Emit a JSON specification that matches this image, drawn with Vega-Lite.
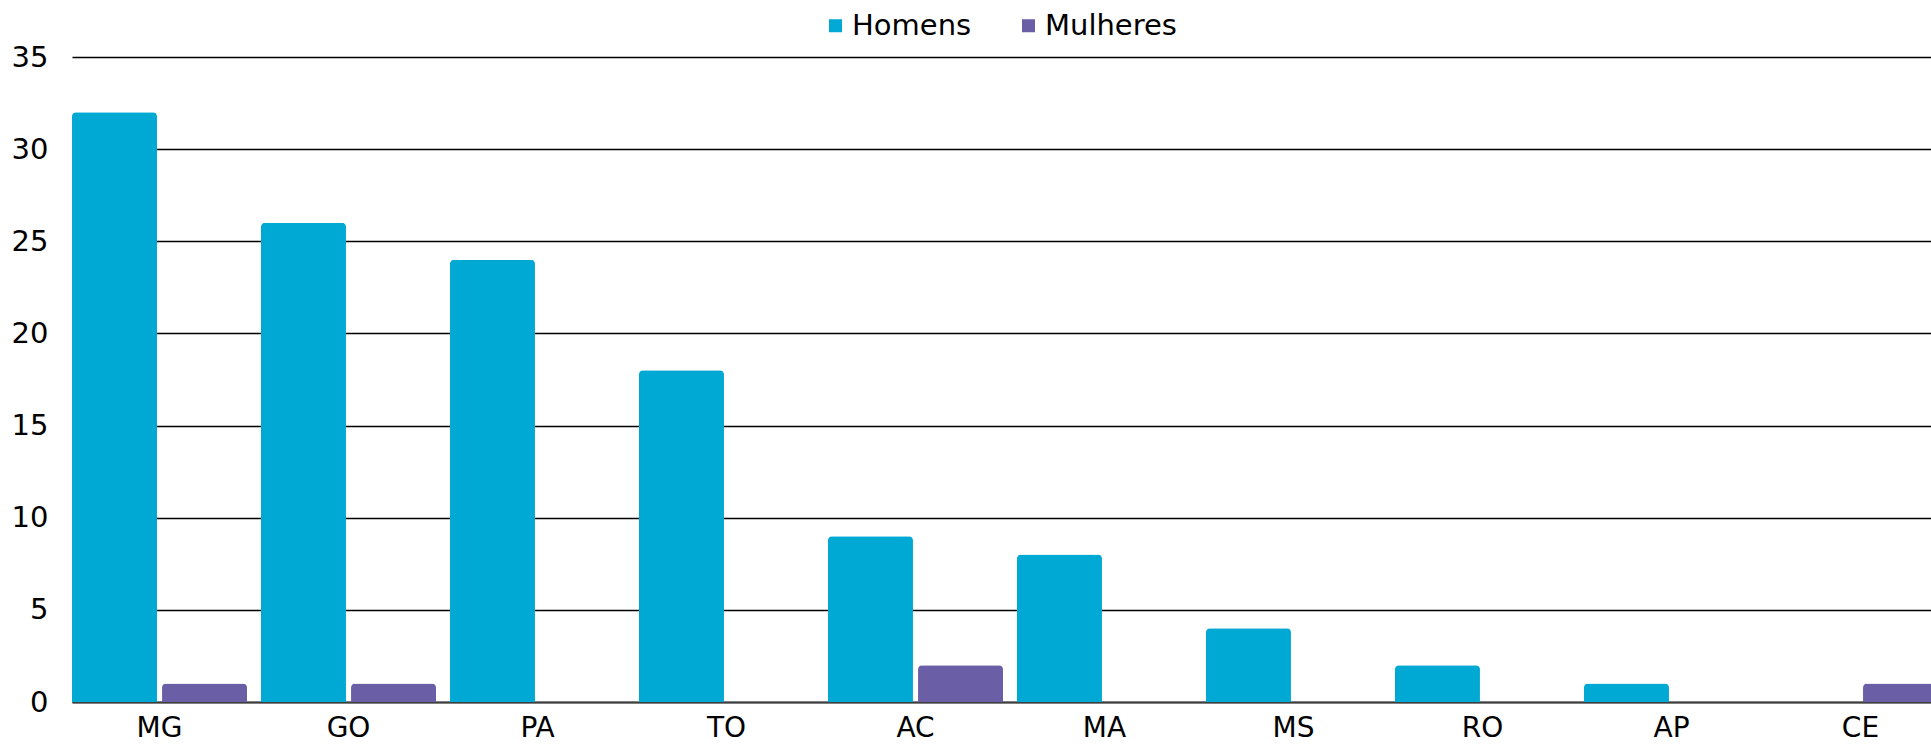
{
  "$schema": "https://vega.github.io/schema/vega-lite/v6.json",
  "width": 1859,
  "height": 645,
  "autosize": "none",
  "padding": {"left": 72, "top": 57, "right": 0, "bottom": 42},
  "background": "white",
  "config": {
    "view": {"stroke": null},
    "font": "DejaVu Sans"
  },
  "data": {
    "values": [
      {"estado": "MG", "sexo": "Homens", "valor": 32},
      {"estado": "MG", "sexo": "Mulheres", "valor": 1},
      {"estado": "GO", "sexo": "Homens", "valor": 26},
      {"estado": "GO", "sexo": "Mulheres", "valor": 1},
      {"estado": "PA", "sexo": "Homens", "valor": 24},
      {"estado": "PA", "sexo": "Mulheres", "valor": 0},
      {"estado": "TO", "sexo": "Homens", "valor": 18},
      {"estado": "TO", "sexo": "Mulheres", "valor": 0},
      {"estado": "AC", "sexo": "Homens", "valor": 9},
      {"estado": "AC", "sexo": "Mulheres", "valor": 2},
      {"estado": "MA", "sexo": "Homens", "valor": 8},
      {"estado": "MA", "sexo": "Mulheres", "valor": 0},
      {"estado": "MS", "sexo": "Homens", "valor": 4},
      {"estado": "MS", "sexo": "Mulheres", "valor": 0},
      {"estado": "RO", "sexo": "Homens", "valor": 2},
      {"estado": "RO", "sexo": "Mulheres", "valor": 0},
      {"estado": "AP", "sexo": "Homens", "valor": 1},
      {"estado": "AP", "sexo": "Mulheres", "valor": 0},
      {"estado": "CE", "sexo": "Homens", "valor": 0},
      {"estado": "CE", "sexo": "Mulheres", "valor": 1}
    ]
  },
  "mark": {"type": "bar", "cornerRadiusTopLeft": 4, "cornerRadiusTopRight": 4},
  "encoding": {
    "x": {
      "field": "estado",
      "type": "nominal",
      "sort": null,
      "scale": {"range": [0, 1876], "paddingInner": 0.074, "paddingOuter": 0},
      "axis": {
        "title": null,
        "labelAngle": 0,
        "labelFontSize": 28,
        "labelColor": "black",
        "labelPadding": 12,
        "ticks": false,
        "domainColor": "#404040",
        "domainWidth": 2,
        "grid": false
      }
    },
    "xOffset": {
      "field": "sexo",
      "type": "nominal",
      "scale": {"paddingInner": 0.056, "paddingOuter": 0}
    },
    "y": {
      "field": "valor",
      "type": "quantitative",
      "scale": {"domain": [0, 35], "nice": false},
      "axis": {
        "title": null,
        "values": [0, 5, 10, 15, 20, 25, 30, 35],
        "labelFontSize": 29,
        "labelColor": "black",
        "labelPadding": 24,
        "ticks": false,
        "domain": false,
        "grid": true,
        "gridColor": "black",
        "gridWidth": 1.5
      }
    },
    "color": {
      "field": "sexo",
      "type": "nominal",
      "scale": {"domain": ["Homens", "Mulheres"], "range": ["#00A9D4", "#6A5EA6"]},
      "legend": {
        "title": null,
        "orient": "none",
        "direction": "horizontal",
        "legendX": 749,
        "legendY": -46,
        "symbolType": "square",
        "symbolSize": 169,
        "symbolStrokeWidth": 0,
        "labelFontSize": 29,
        "labelColor": "black",
        "labelOffset": 2,
        "columnPadding": 42,
        "padding": 0
      }
    }
  }
}
